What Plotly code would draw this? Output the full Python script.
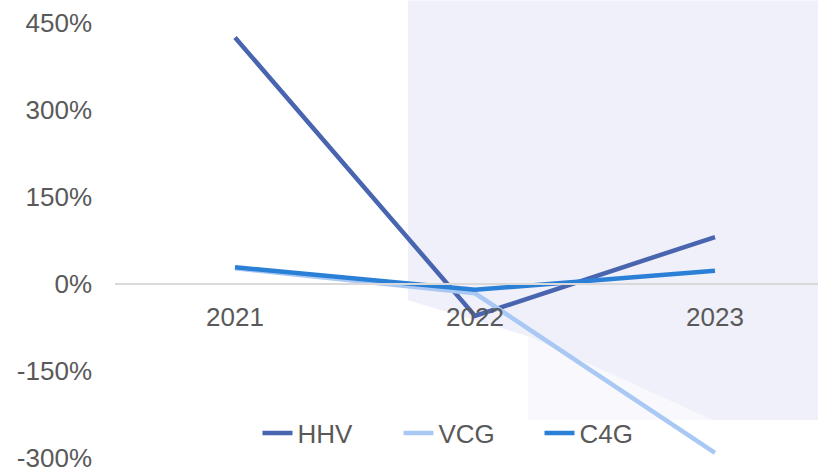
import plotly.graph_objects as go

years = ["2021", "2022", "2023"]
hhv = [425, -55, 81]
vcg = [27, -16, -291]
c4g = [29, -10, 23]
tick_vals = [-300, -150, 0, 150, 300, 450]
tick_text = ["-300%", "-150%", "0%", "150%", "300%", "450%"]

W, H = 818, 469
PL, PT, PB, PR = 115, 22.5, 458, 818  # plot area in page pixels
L, T, B = PL, PT, H - PB
pw, ph = PR - PL, PB - PT

def px(x):
    return (x - PL) / pw

def py(y):
    return (PB - y) / ph

fig = go.Figure()
series = [("HHV", hhv, "#4A65AF"), ("VCG", vcg, "#A9C9F4"), ("C4G", c4g, "#2A7FD6")]
for name, vals, col in series:
    fig.add_trace(go.Scatter(x=years, y=vals, name=name, mode="lines",
                             line=dict(color=col, width=4.5), cliponaxis=False))

bg = ("M {},{} L {},{} L {},{} L {},{} L {},{} L {},{} Z").format(
    px(408), py(0), px(818), py(0), px(818), py(420), px(712), py(420),
    px(528), py(336), px(408), py(300))
fig.add_shape(type="path", path=bg, xref="paper", yref="paper",
              fillcolor="#F0F0FA", line=dict(width=0), layer="below")
bg2 = ("M {},{} L {},{} L {},{} L {},{} Z").format(
    px(528), py(336), px(712), py(420), px(528), py(420), px(528), py(336))
fig.add_shape(type="path", path=bg2, xref="paper", yref="paper",
              fillcolor="#F9F9FD", line=dict(width=0), layer="below")

font = dict(family="Liberation Sans, Arial, sans-serif", size=26, color="#595959")
fig.update_layout(
    width=W, height=H,
    margin=dict(l=L, r=0, t=T, b=B, autoexpand=False),
    paper_bgcolor="white", plot_bgcolor="rgba(0,0,0,0)",
    font=font,
    showlegend=True,
    legend=dict(orientation="h", x=px(469), xanchor="center", y=py(433),
                yanchor="middle", font=font, bgcolor="rgba(0,0,0,0)",
                itemwidth=30, tracegroupgap=0,
                entrywidth=96, entrywidthmode="pixels"),
    xaxis=dict(range=[-0.5, 2.5 - 17 / 240], showgrid=False, zeroline=False,
               showline=True, linecolor="#D9D9D9", linewidth=1.5,
               anchor="free", position=py(284), ticks="", ticklabelstandoff=10,
               tickfont=font, fixedrange=True, automargin=False),
    yaxis=dict(range=[-300, 450], tickvals=tick_vals, ticktext=tick_text,
               showgrid=False, zeroline=False, showline=False, ticks="",
               ticklabelstandoff=22, tickfont=font, fixedrange=True,
               automargin=False, ticklabeloverflow="allow"),
)

fig.write_html(
    "out.html",
    config={"displayModeBar": False},
    post_script="document.body.style.margin='0';"
                "document.body.style.overflow='hidden';"
                "document.documentElement.style.overflow='hidden';",
)
